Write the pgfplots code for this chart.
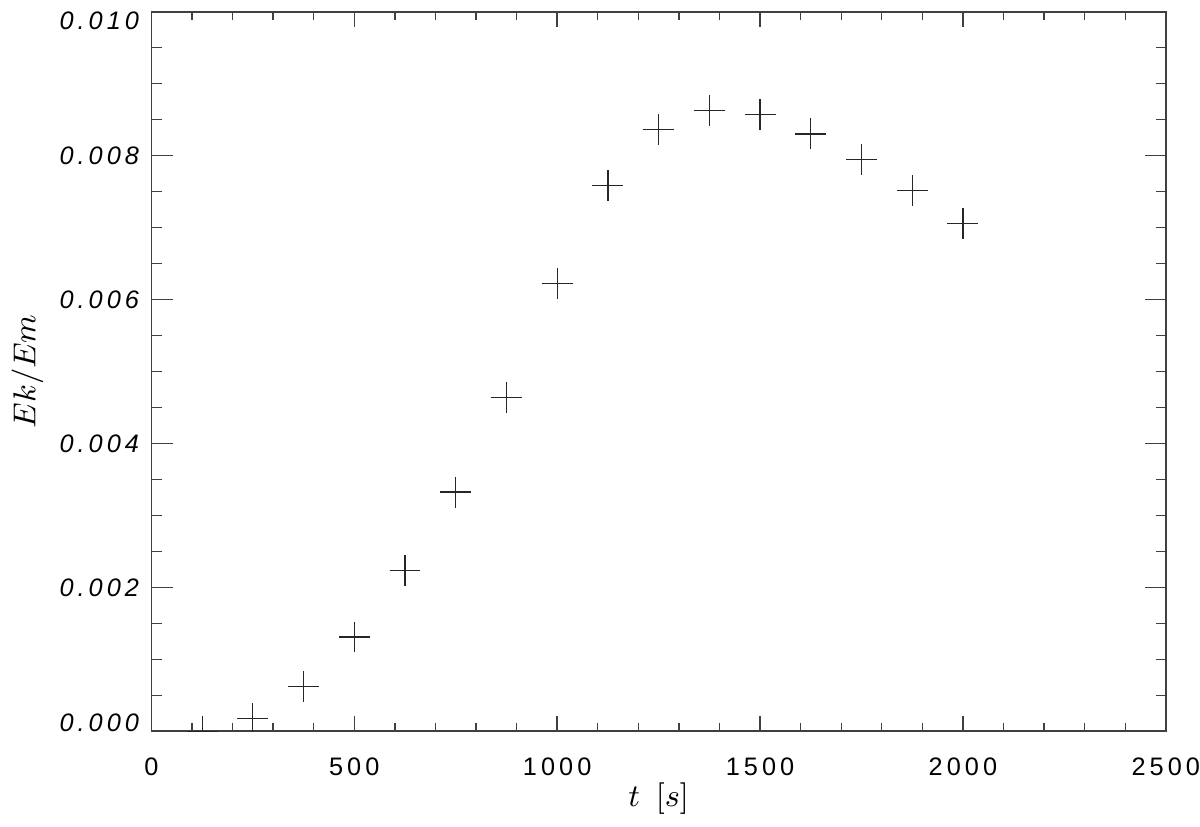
\documentclass[border=0pt]{standalone}
\usepackage{fontspec}
\usepackage{pgfplots}
\pgfplotsset{compat=1.18}
\newfontfamily\tickfont[LetterSpace=16]{Liberation Sans}

\begin{document}
\begin{tikzpicture}
\begin{axis}[
    scale only axis,
    width=101.5mm, height=72mm,
    xmin=0, xmax=2500,
    ymin=0, ymax=0.010,
    scaled y ticks=false,
    xtick={0,500,1000,1500,2000,2500},
    xticklabels={0,500,1000,1500,2000,2500},
    ytick={0,0.002,0.004,0.006,0.008,0.010},
    yticklabels={{\raisebox{0pt}[0pt][0pt]{0.000}},0.002,0.004,0.006,0.008,{\raisebox{-\height}[0pt][0pt]{0.010}}},
    minor x tick num=4,
    minor y tick num=3,
    tick align=inside,
    xtick style={/pgfplots/major tick length=4.3pt, /pgfplots/minor tick length=2.3pt},
    ytick style={/pgfplots/major tick length=6pt, /pgfplots/minor tick length=2.9pt},
    every tick/.style={black!75, line width=0.4pt},
    axis line style={black!75, line width=0.5pt},
    xticklabel style={font=\tickfont\fontsize{7.2}{8}\selectfont, inner xsep=0pt, yshift=-4pt},
    yticklabel style={font=\tickfont\itshape\fontsize{7.2}{8}\selectfont},
    xlabel={$t\enspace[s]$},
    ylabel={$Ek/Em$},
    label style={font=\fontsize{9}{11}\selectfont},
    xlabel style={at={([yshift=-6.75mm]axis description cs:0.5,0)}, anchor=center},
    ylabel style={at={([xshift=-12.4mm]axis description cs:0,0.5)}, anchor=center},
    clip marker paths=true,
]
\addplot[only marks, mark=+, mark size=4.4pt, black!85, line width=0.35pt] coordinates {
    (125,0.0000) (250,0.000174) (375,0.000622) (500,0.00131)
    (625,0.00223) (750,0.003324) (875,0.004639) (1000,0.006218)
    (1125,0.007588) (1250,0.008361) (1375,0.008629) (1500,0.008569)
    (1625,0.008301) (1750,0.007944) (1875,0.007514) (2000,0.007056)
};
\end{axis}
\end{tikzpicture}
\end{document}
